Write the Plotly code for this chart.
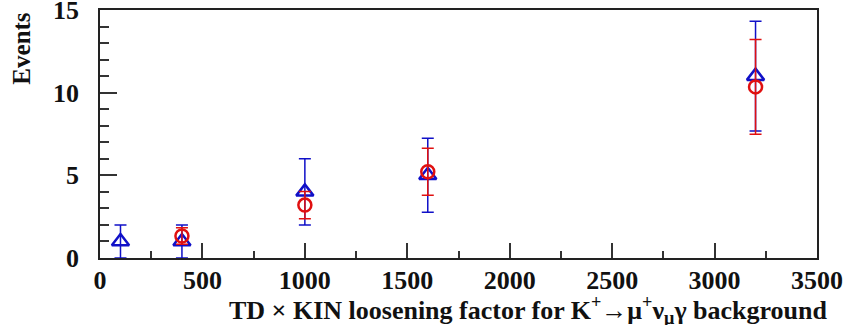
import plotly.graph_objects as go

# data
x_blue = [100, 400, 1000, 1600, 3200]
y_blue = [1.0, 1.0, 4.0, 5.0, 11.0]
e_blue = [1.0, 1.0, 2.0, 2.24, 3.32]

x_red = [400, 1000, 1600, 3200]
y_red = [1.33, 3.2, 5.22, 10.35]
e_red = [0.5, 0.82, 1.42, 2.87]

x_ticks = [0, 500, 1000, 1500, 2000, 2500, 3000, 3500]
y_ticks = [0, 5, 10, 15]

BLUE = "#1010c8"
RED = "#e01010"
FONT = "Liberation Serif"

fig = go.Figure()
fig.add_trace(go.Scatter(
    x=x_blue, y=y_blue, mode="markers",
    marker=dict(symbol="triangle-up-open", size=15, color=BLUE, line=dict(width=2.5, color=BLUE)),
    error_y=dict(type="data", array=e_blue, color=BLUE, thickness=1.5, width=6),
    cliponaxis=True, showlegend=False,
))
fig.add_trace(go.Scatter(
    x=x_red, y=y_red, mode="markers",
    marker=dict(symbol="circle-open", size=13, color=RED, line=dict(width=2.5, color=RED)),
    error_y=dict(type="data", array=e_red, color=RED, thickness=1.5, width=6),
    cliponaxis=True, showlegend=False,
))

axis_common = dict(
    showgrid=False, zeroline=False, showline=True, linecolor="#222", linewidth=1.5,
    mirror=True, ticks="inside", tickcolor="#333", tickwidth=1.5, automargin=False,
    ticklabeloverflow="allow",
    tickfont=dict(family=FONT, size=26, color="#111", weight="bold"),
)

fig.update_xaxes(
    range=[0, 3500], tickvals=x_ticks, ticktext=[str(v) for v in x_ticks],
    ticklen=15, ticklabelstandoff=-2,
    minor=dict(dtick=250, ticklen=7, tickcolor="#333", tickwidth=1.5, ticks="inside"),
    **axis_common,
)
fig.update_yaxes(
    range=[0, 15], tickvals=y_ticks, ticktext=[str(v) for v in y_ticks],
    ticklen=17, ticklabelstandoff=14,
    minor=dict(dtick=1, ticklen=9, tickcolor="#333", tickwidth=1.5, ticks="inside"),
    **axis_common,
)

fig.update_layout(
    width=844, height=325,
    margin=dict(l=100, r=27, t=10, b=67),
    paper_bgcolor="white", plot_bgcolor="white",
    font=dict(family=FONT, color="#111"),
    annotations=[
        dict(text="Events", textangle=-90, xref="paper", yref="paper",
             x=-0.11, y=1.0, xanchor="center", yanchor="top", showarrow=False,
             font=dict(family=FONT, size=25, color="#111", weight="bold")),
        dict(text="TD × KIN loosening factor for K<sup>+</sup>→μ<sup>+</sup>ν<sub>μ</sub>γ background",
             xref="paper", yref="paper", x=1.018, y=-0.13, xanchor="right", yanchor="top",
             showarrow=False, font=dict(family=FONT, size=26, color="#111", weight="bold")),
    ],
)

fig.write_html("out.html", config={"displayModeBar": False},
               post_script="document.body.style.margin='0';document.body.style.overflow='hidden';")
